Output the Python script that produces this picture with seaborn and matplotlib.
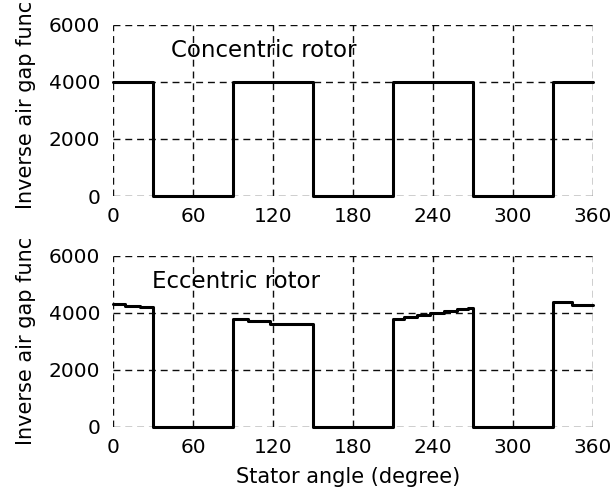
import matplotlib
matplotlib.use("Agg")
import matplotlib.pyplot as plt
import seaborn as sns
import pandas as pd

# ---- data ----
conc_angle = [0, 30, 90, 150, 210, 270, 330, 360]
conc_value = [4000, 0, 4000, 0, 4000, 0, 4000, 4000]

ecc_angle = [0, 9, 20, 30, 90, 101, 118, 150, 210, 218, 228, 238, 248, 258, 266, 270, 330, 344, 360]
ecc_value = [4320, 4245, 4205, 0, 3800, 3710, 3605, 0, 3800, 3850, 3940, 4000, 4060, 4140, 4190, 0, 4370, 4290, 4290]

x_ticks = [0, 60, 120, 180, 240, 300, 360]
y_ticks = [0, 2000, 4000, 6000]
titles = ["Concentric rotor", "Eccentric rotor"]
ylabel = "Inverse air gap func"
xlabel = "Stator angle (degree)"

sns.set_theme(style="white")
plt.rcParams["font.family"] = ["DejaVu Sans"]

fig = plt.figure(figsize=(6.14, 4.90), dpi=100)
ax_top = fig.add_axes([0.184, 0.600, 0.782, 0.349])
ax_bot = fig.add_axes([0.184, 0.1286, 0.782, 0.349])

datasets = [
    (ax_top, pd.DataFrame({"angle": conc_angle, "value": conc_value}), titles[0], 0.53),
    (ax_bot, pd.DataFrame({"angle": ecc_angle, "value": ecc_value}), titles[1], 0.505),
]

for i, (ax, df, title, ylab_y) in enumerate(datasets):
    sns.lineplot(data=df, x="angle", y="value", ax=ax, drawstyle="steps-post",
                 color="black", linewidth=2.2, estimator=None, clip_on=False, zorder=3)
    ax.set_xlim(0, 360)
    ax.set_ylim(0, 6000)
    ax.set_xticks(x_ticks)
    ax.set_yticks(y_ticks)
    ax.set_xticklabels([str(t) for t in x_ticks])
    ax.set_yticklabels([str(t) for t in y_ticks])
    ax.tick_params(axis="both", length=0, labelsize=14.5, colors="black")
    ax.tick_params(axis="x", pad=8)
    ax.tick_params(axis="y", pad=9)
    for s in ax.spines.values():
        s.set_visible(False)
    ax.grid(True, color="0.05", linestyle=(0, (5, 3.5)), linewidth=1.0)
    ax.set_axisbelow(True)
    ax.set_ylabel(ylabel, fontsize=15, color="black")
    ax.yaxis.label.set_va("center")
    ax.yaxis.set_label_coords(-0.182, ylab_y)
    tx = 43.5 if i == 0 else 29.6
    ax.text(tx, 4890, title, fontsize=16.5, color="black", va="baseline", ha="left")
    if i == 0:
        ax.set_xlabel("")
    else:
        ax.set_xlabel(xlabel, fontsize=15, color="black")
        ax.xaxis.label.set_va("center")
        ax.xaxis.set_label_coords(0.49, -0.292)

fig.savefig("out.png", dpi=100, facecolor="white")
